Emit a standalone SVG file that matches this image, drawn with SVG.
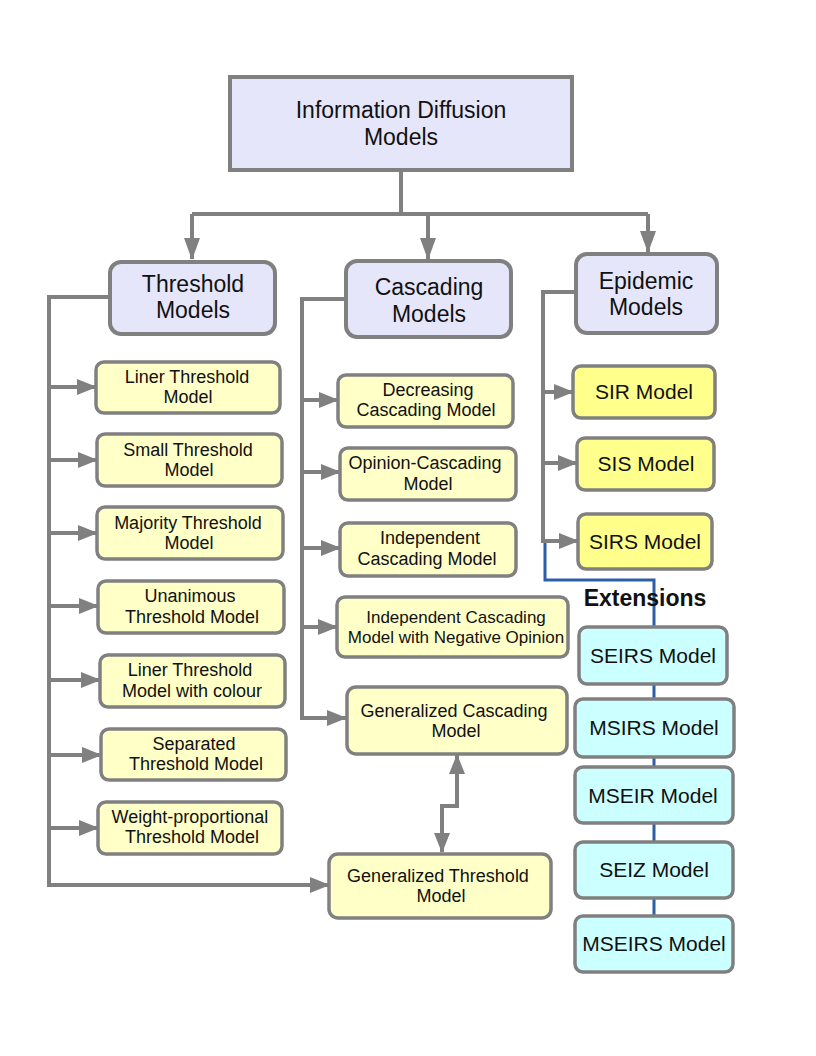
<svg xmlns="http://www.w3.org/2000/svg" width="816" height="1056" viewBox="0 0 816 1056">
<style>
  text{font-family:"Liberation Sans",Arial,sans-serif;fill:#111;text-anchor:middle}
  .hd{font-size:23px}
  .ch{font-size:18px}
  .ep{font-size:21px}
  .root{fill:#e6e6fa;stroke:#808080;stroke-width:4}
  .head{fill:#e6e6fa;stroke:#808080;stroke-width:4}
  .yel{fill:#ffffc8;stroke:#808080;stroke-width:3.5}
  .ye2{fill:#ffff8c;stroke:#808080;stroke-width:3.5}
  .cy{fill:#ccffff;stroke:#808080;stroke-width:3.5}
  .ln{fill:none;stroke:#808080;stroke-width:4}
  .bl{fill:none;stroke:#2c5fa3;stroke-width:3}
</style>
<defs>
  <marker id="a" viewBox="0 0 20 16" refX="19" refY="8" markerWidth="20" markerHeight="16" markerUnits="userSpaceOnUse" orient="auto-start-reverse">
    <path d="M0,0 L20,8 L0,16 Z" fill="#808080"/>
  </marker>
  <marker id="big" viewBox="0 0 22 16" refX="21" refY="8" markerWidth="22" markerHeight="16" markerUnits="userSpaceOnUse" orient="auto">
    <path d="M0,0 L22,8 L0,16 Z" fill="#808080"/>
  </marker>
</defs>

<g id="connectors">
  <path class="ln" d="M401,170 V214 M192,214 H648"/>
  <path class="ln" d="M192,214 V259" marker-end="url(#big)"/>
  <path class="ln" d="M428,214 V259" marker-end="url(#big)"/>
  <path class="ln" d="M648,214 V252" marker-end="url(#big)"/>

  <path class="ln" d="M110,297 H49 V885 H329" marker-end="url(#a)"/>
  <path class="ln" d="M49,387 H96" marker-end="url(#a)"/>
  <path class="ln" d="M49,460 H97" marker-end="url(#a)"/>
  <path class="ln" d="M49,533 H97" marker-end="url(#a)"/>
  <path class="ln" d="M49,606 H98" marker-end="url(#a)"/>
  <path class="ln" d="M49,680 H100" marker-end="url(#a)"/>
  <path class="ln" d="M49,755 H101" marker-end="url(#a)"/>
  <path class="ln" d="M49,828 H98" marker-end="url(#a)"/>

  <path class="ln" d="M346,299 H302 V718 H346" marker-end="url(#a)"/>
  <path class="ln" d="M302,400 H338" marker-end="url(#a)"/>
  <path class="ln" d="M302,472 H340" marker-end="url(#a)"/>
  <path class="ln" d="M302,548 H340" marker-end="url(#a)"/>
  <path class="ln" d="M302,627 H337" marker-end="url(#a)"/>

  <path class="ln" d="M442,852 V806 H457 V755" marker-start="url(#a)" marker-end="url(#a)"/>

  <path class="ln" d="M576,292 H543 V541 H578" marker-end="url(#a)"/>
  <path class="ln" d="M543,392 H573" marker-end="url(#a)"/>
  <path class="ln" d="M543,463 H577" marker-end="url(#a)"/>

  <path class="bl" d="M545,543 V580 H654 V627"/>
  <path class="bl" d="M654,684 V699 M654,757 V767 M654,823 V842 M654,898 V916"/>
</g>

<g id="root"><rect class="root" x="230" y="77" width="342" height="93"/>
  <text class="hd" x="401" y="118">Information Diffusion</text><text class="hd" x="401" y="145">Models</text></g>

<g id="threshold"><rect class="head" x="110" y="262" width="165" height="72" rx="11"/>
  <text class="hd" x="193" y="292">Threshold</text><text class="hd" x="193" y="318">Models</text></g>
<g id="cascading"><rect class="head" x="346" y="261" width="165" height="76" rx="11"/>
  <text class="hd" x="429" y="295">Cascading</text><text class="hd" x="429" y="322">Models</text></g>
<g id="epidemic"><rect class="head" x="576" y="254" width="141" height="79" rx="11"/>
  <text class="hd" x="646" y="289">Epidemic</text><text class="hd" x="646" y="315">Models</text></g>

<g id="t1"><rect class="yel" x="96" y="362" width="184" height="51" rx="8"/>
  <text class="ch" x="187" y="383">Liner Threshold</text><text class="ch" x="188" y="403">Model</text></g>
<g id="t2"><rect class="yel" x="97" y="434" width="185" height="52" rx="8"/>
  <text class="ch" x="188" y="456">Small Threshold</text><text class="ch" x="189" y="476">Model</text></g>
<g id="t3"><rect class="yel" x="97" y="507" width="186" height="52" rx="8"/>
  <text class="ch" x="188" y="529">Majority Threshold</text><text class="ch" x="189" y="549">Model</text></g>
<g id="t4"><rect class="yel" x="98" y="581" width="186" height="52" rx="8"/>
  <text class="ch" x="190" y="602">Unanimous</text><text class="ch" x="192" y="623">Threshold Model</text></g>
<g id="t5"><rect class="yel" x="100" y="655" width="185" height="52" rx="8"/>
  <text class="ch" x="190" y="676">Liner Threshold</text><text class="ch" x="192" y="697">Model with colour</text></g>
<g id="t6"><rect class="yel" x="101" y="729" width="185" height="51" rx="8"/>
  <text class="ch" x="194" y="750">Separated</text><text class="ch" x="196" y="770">Threshold Model</text></g>
<g id="t7"><rect class="yel" x="98" y="802" width="184" height="52" rx="8"/>
  <text class="ch" x="190" y="823">Weight-proportional</text><text class="ch" x="192" y="843">Threshold Model</text></g>

<g id="c1"><rect class="yel" x="338" y="375" width="175" height="52" rx="8"/>
  <text class="ch" x="428" y="396">Decreasing</text><text class="ch" x="426" y="416">Cascading Model</text></g>
<g id="c2"><rect class="yel" x="340" y="448" width="176" height="52" rx="8"/>
  <text class="ch" x="425" y="469">Opinion-Cascading</text><text class="ch" x="428" y="490">Model</text></g>
<g id="c3"><rect class="yel" x="340" y="523" width="176" height="53" rx="8"/>
  <text class="ch" x="430" y="544">Independent</text><text class="ch" x="427" y="565">Cascading Model</text></g>
<g id="c4"><rect class="yel" x="337" y="597" width="231" height="60" rx="8"/>
  <text x="456" y="623" style="font-size:17px">Independent Cascading</text><text x="456" y="643" style="font-size:17px">Model with Negative Opinion</text></g>
<g id="gc"><rect class="yel" x="347" y="687" width="220" height="67" rx="9"/>
  <text class="ch" x="454" y="717">Generalized Cascading</text><text class="ch" x="456" y="737">Model</text></g>
<g id="gt"><rect class="yel" x="329" y="854" width="222" height="64" rx="9"/>
  <text class="ch" x="438" y="882">Generalized Threshold</text><text class="ch" x="441" y="902">Model</text></g>

<g id="sir"><rect class="ye2" x="573" y="366" width="142" height="52" rx="8"/>
  <text class="ep" x="644" y="399">SIR Model</text></g>
<g id="sis"><rect class="ye2" x="577" y="438" width="137" height="52" rx="8"/>
  <text class="ep" x="646" y="471">SIS Model</text></g>
<g id="sirs"><rect class="ye2" x="578" y="514" width="134" height="55" rx="8"/>
  <text class="ep" x="645" y="549">SIRS Model</text></g>

<text x="645" y="606" style="font-size:23px;font-weight:bold">Extensions</text>

<g id="seirs"><rect class="cy" x="579" y="627" width="148" height="57" rx="8"/>
  <text class="ep" x="653" y="663">SEIRS Model</text></g>
<g id="msirs"><rect class="cy" x="575" y="699" width="159" height="58" rx="8"/>
  <text class="ep" x="654" y="735">MSIRS Model</text></g>
<g id="mseir"><rect class="cy" x="575" y="767" width="158" height="56" rx="8"/>
  <text class="ep" x="653" y="803">MSEIR Model</text></g>
<g id="seiz"><rect class="cy" x="575" y="842" width="158" height="56" rx="8"/>
  <text class="ep" x="654" y="877">SEIZ Model</text></g>
<g id="mseirs"><rect class="cy" x="575" y="916" width="158" height="56" rx="8"/>
  <text class="ep" x="654" y="951">MSEIRS Model</text></g>
</svg>
